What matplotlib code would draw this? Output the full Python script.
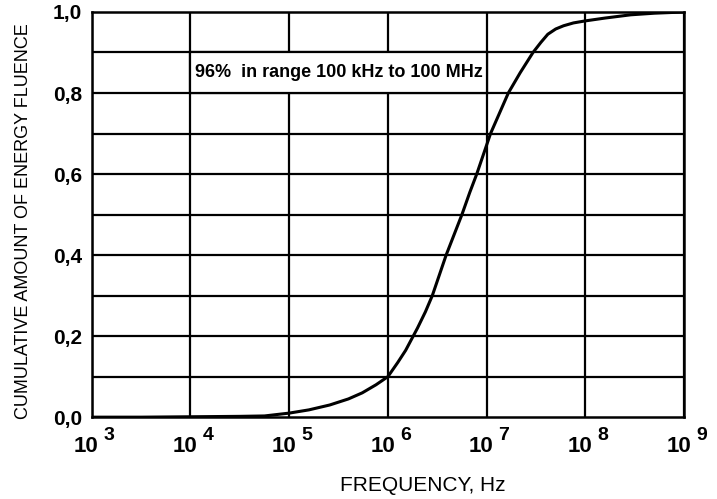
import numpy as np
import matplotlib
matplotlib.use("Agg")
import matplotlib.pyplot as plt
from matplotlib.patches import Rectangle

plt.rcParams['font.family'] = ['Liberation Sans', 'DejaVu Sans']

# curve: log10(frequency) and cumulative fraction
log_freq = [3.0, 3.5, 4.0, 4.5, 4.75, 5.0, 5.2, 5.41, 5.6, 5.74, 5.88, 6.0,
            6.1, 6.18, 6.3, 6.38, 6.45, 6.52, 6.59, 6.67, 6.75, 6.83, 6.90,
            6.97, 7.04, 7.13, 7.22, 7.34, 7.47, 7.55, 7.62, 7.70, 7.78,
            7.88, 8.0, 8.2, 8.46, 8.7, 9.0]
cumulative = [0.0, 0.0, 0.001, 0.002, 0.003, 0.01, 0.018, 0.03, 0.045, 0.06,
              0.08, 0.10, 0.135, 0.165, 0.22, 0.26, 0.30, 0.35, 0.40, 0.45,
              0.50, 0.555, 0.60, 0.65, 0.70, 0.75, 0.80, 0.85, 0.90, 0.925,
              0.945, 0.958, 0.966, 0.973, 0.978, 0.985, 0.993, 0.997, 1.0]

decades = [3, 4, 5, 6, 7, 8, 9]
y_ticks = [0.0, 0.2, 0.4, 0.6, 0.8, 1.0]
y_labels = ["0,0", "0,2", "0,4", "0,6", "0,8", "1,0"]
note = "96%  in range 100 kHz to 100 MHz"

fig = plt.figure(figsize=(7.17, 4.99), dpi=100)
ax = fig.add_axes([0.128, 0.164, 0.826, 0.812])

freq = 10.0 ** np.array(log_freq)

ax.set_xscale("log")
ax.set_xlim(1e3, 1e9)
ax.set_ylim(0, 1.0)

# grid: every decade, every 0.1
for d in decades:
    ax.axvline(10.0 ** d, color="black", lw=1.6, zorder=1)
for v in np.arange(0.1, 1.0, 0.1):
    ax.axhline(v, color="black", lw=1.6, zorder=1)

# white note box sitting in the 0.8-0.9 band between 10^4 and 10^7
ax.add_patch(Rectangle((1e4, 0.8), 1e7 - 1e4, 0.1, facecolor="white",
                       edgecolor="black", lw=1.6, zorder=2))
ax.text(10 ** 5.5, 0.85, note, ha="center", va="center", fontsize=13,
        fontweight="bold", zorder=3)

ax.plot(freq, cumulative, color="black", lw=2.2, zorder=4,
        solid_capstyle="round", solid_joinstyle="round")

# x tick labels written by hand: "10" with a large raised exponent
ax.set_xticks([10.0 ** d for d in decades])
ax.set_xticklabels([])
ax.xaxis.set_minor_locator(plt.NullLocator())
for d in decades:
    ax.annotate("10", xy=(10.0 ** d, 0), xycoords=("data", "axes fraction"),
                xytext=(7, -29), textcoords="offset pixels", ha="right",
                va="center", fontsize=16, fontweight="bold",
                annotation_clip=False)
    ax.annotate(str(d), xy=(10.0 ** d, 0), xycoords=("data", "axes fraction"),
                xytext=(12, -18), textcoords="offset pixels", ha="left",
                va="center", fontsize=14, fontweight="bold",
                annotation_clip=False)

ax.set_yticks(y_ticks)
ax.set_yticklabels(y_labels, fontweight="bold")
ax.tick_params(axis="both", length=0, labelsize=15)
ax.tick_params(axis="y", pad=7)

for s in ax.spines.values():
    s.set_linewidth(1.8)

fig.text(0.033, 0.557, "CUMULATIVE AMOUNT OF ENERGY FLUENCE", rotation=90,
         ha="center", va="center", fontsize=13)
fig.text(0.59, 0.028, "FREQUENCY, Hz", ha="center", va="center",
         fontsize=15)

fig.savefig("out.png", dpi=100)
